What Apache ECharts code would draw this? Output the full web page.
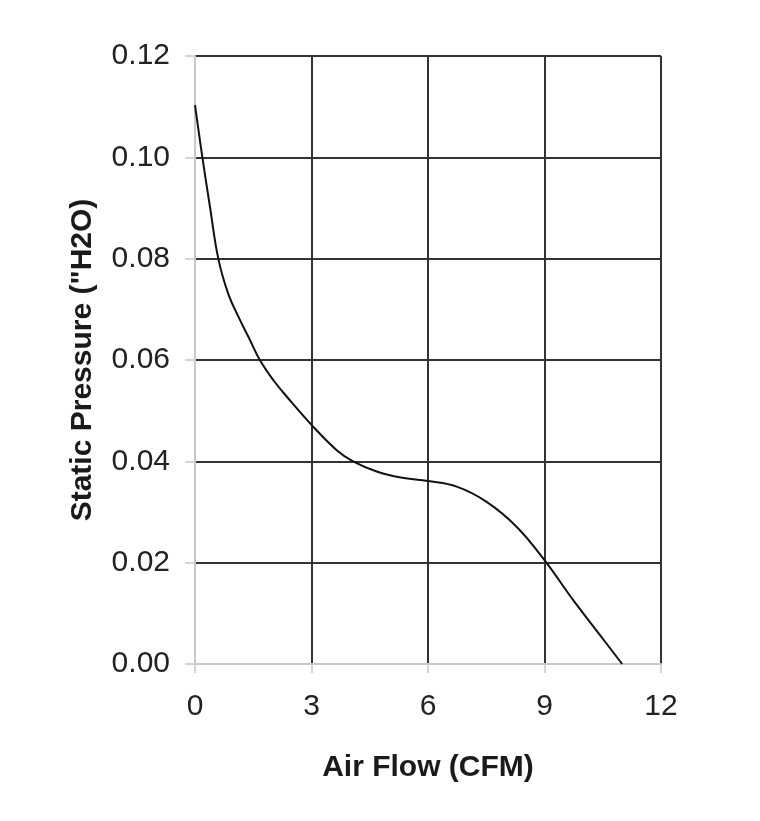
<!DOCTYPE html>
<html>
<head>
<meta charset="utf-8">
<script src="https://cdn.jsdelivr.net/npm/echarts@6/dist/echarts.min.js"></script>
<style>html,body{margin:0;padding:0;background:#fff}#c{width:760px;height:821px}</style>
</head>
<body>
<div id="c"></div>
<script>
const airFlow = [0, 0.19, 0.39, 0.60, 0.85, 1.12, 1.40, 1.67, 2.02, 2.36, 3.0, 3.65, 4.07, 4.68, 5.3, 6.0, 6.74, 7.51, 8.28, 9.0, 9.74, 10.43, 11.0];
const pressure = [0.1103, 0.100, 0.090, 0.080, 0.0732, 0.0685, 0.0642, 0.060, 0.056, 0.0528, 0.0472, 0.0422, 0.040, 0.038, 0.0368, 0.0361, 0.035, 0.032, 0.0271, 0.0205, 0.0126, 0.0057, 0.0];
const xTitle = 'Air Flow (CFM)';
const yTitle = 'Static Pressure ("H2O)';

const chart = echarts.init(document.getElementById('c'));
const font = 'Liberation Sans, Arial, Helvetica, sans-serif';
chart.setOption({
  animation: false,
  backgroundColor: '#fff',
  grid: { left: 195, right: 99, top: 56, bottom: 157 },
  xAxis: {
    type: 'value', min: 0, max: 12, interval: 3,
    name: xTitle, nameLocation: 'middle', nameGap: 89,
    nameTextStyle: { fontFamily: font, fontSize: 30, fontWeight: 'bold', color: '#1a1a1a' },
    axisLine: { show: true, lineStyle: { color: '#c8c8c8', width: 2 } },
    axisTick: { show: true, length: 9, lineStyle: { color: '#c8c8c8', width: 1.5 } },
    axisLabel: { margin: 28, fontFamily: font, fontSize: 30, color: '#222' },
    splitLine: { show: true, lineStyle: { color: '#333', width: 2 } }
  },
  yAxis: {
    type: 'value', min: 0, max: 0.12, interval: 0.02,
    name: yTitle, nameLocation: 'middle', nameGap: 97, nameRotate: 90,
    nameTextStyle: { fontFamily: font, fontSize: 30, fontWeight: 'bold', color: '#1a1a1a' },
    axisLine: { show: true, lineStyle: { color: '#c8c8c8', width: 2 } },
    axisTick: { show: true, length: 10, lineStyle: { color: '#c8c8c8', width: 1.5 } },
    axisLabel: { margin: 25, fontFamily: font, fontSize: 30, color: '#222', formatter: v => v.toFixed(2) },
    splitLine: { show: true, lineStyle: { color: '#333', width: 2 } }
  },
  series: [{
    type: 'line',
    data: airFlow.map((x, i) => [x, pressure[i]]),
    smooth: 0.4,
    showSymbol: false,
    lineStyle: { color: '#111', width: 2 },
    z: 5
  }]
});
</script>
</body>
</html>
